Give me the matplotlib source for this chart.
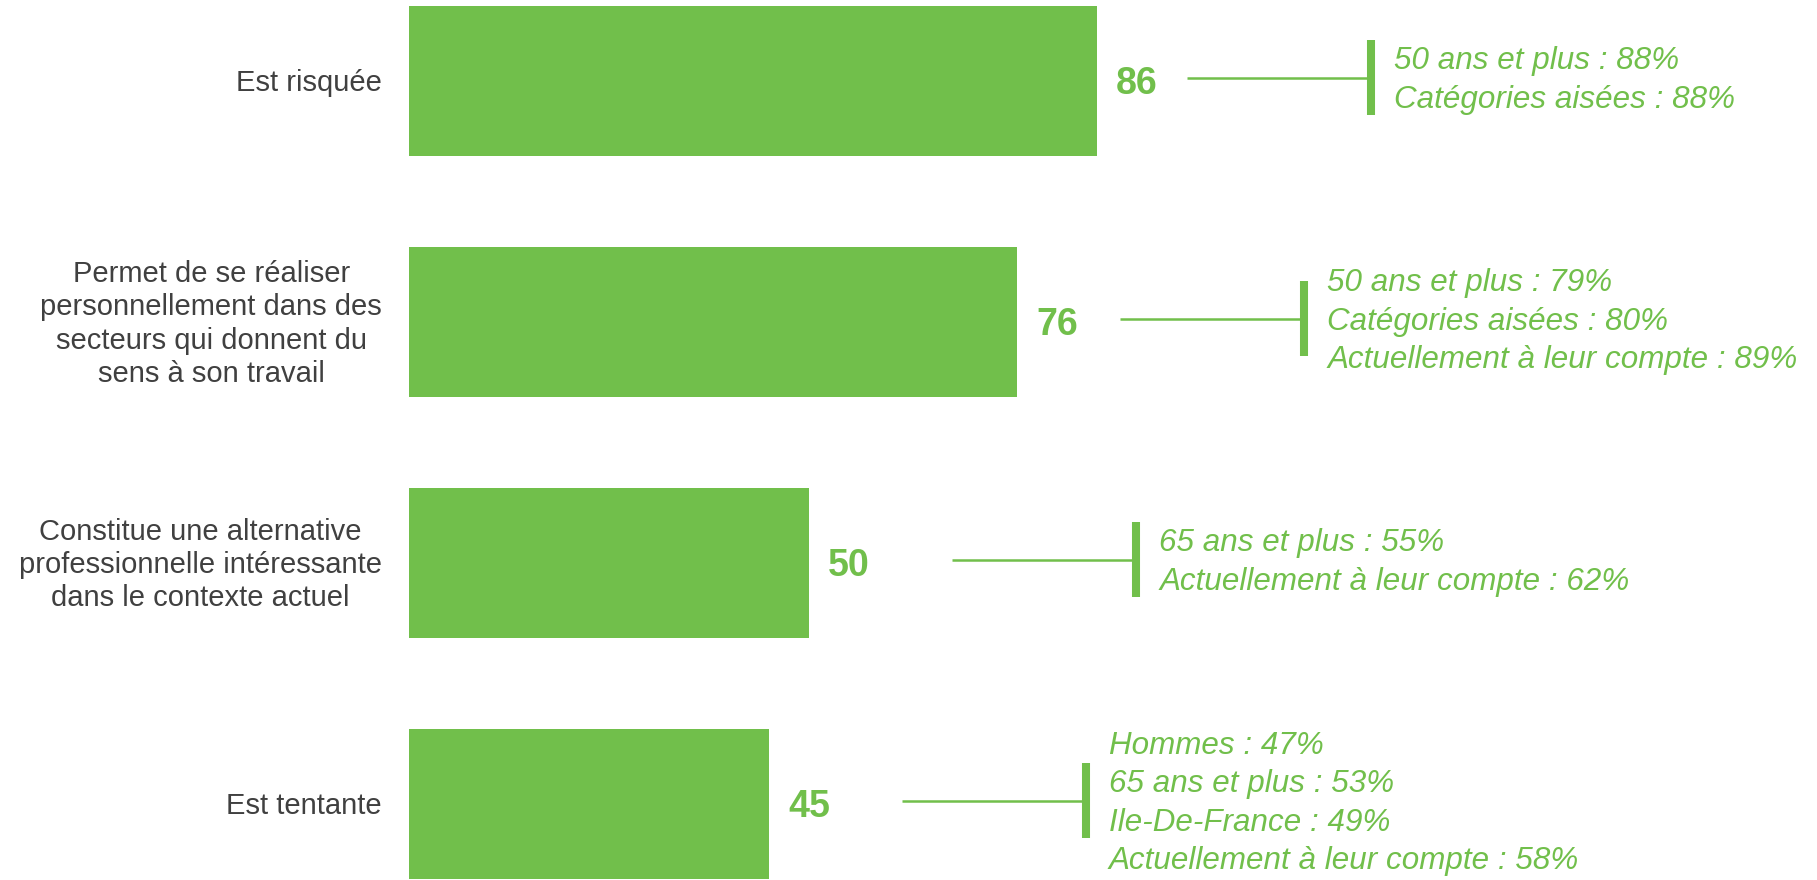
import matplotlib
matplotlib.use("Agg")
import matplotlib.pyplot as plt

# ---- data ----
categories = [
    ["Est risquée"],
    ["Permet de se réaliser", "personnellement dans des", "secteurs qui donnent du", "sens à son travail"],
    ["Constitue une alternative", "professionnelle intéressante", "dans le contexte actuel"],
    ["Est tentante"],
]
values = [86, 76, 50, 45]
details = [
    ["50 ans et plus : 88%", "Catégories aisées : 88%"],
    ["50 ans et plus : 79%", "Catégories aisées : 80%", "Actuellement à leur compte : 89%"],
    ["65 ans et plus : 55%", "Actuellement à leur compte : 62%"],
    ["Hommes : 47%", "65 ans et plus : 53%", "Ile-De-France : 49%", "Actuellement à leur compte : 58%"],
]
# position of the bracket (vertical tick) for each callout, in value units
bracket_x = [120.25, 111.9, 90.9, 84.6]

GREEN = "#71BF4B"
GREY = "#404040"
FONT = ["Liberation Sans", "DejaVu Sans"]

W, H, DPI = 1817, 880, 100
fig = plt.figure(figsize=(W / DPI, H / DPI), dpi=DPI)
left_px = 409
px_per_unit = 8.0
row_px = 241.0
top_center_px = 81.0

ax = fig.add_axes([left_px / W, 0, 1 - left_px / W, 1])
ax.set_xlim(0, (W - left_px) / px_per_unit)
ax.set_ylim((H - top_center_px) / row_px, -top_center_px / row_px)
ax.axis("off")

dx = 1.0 / px_per_unit   # data units per pixel (x)
dy = 1.0 / row_px        # data units per pixel (y)

ypos = list(range(len(values)))
ax.barh(ypos, values, height=150 / row_px, color=GREEN, edgecolor="none")

renderer = fig.canvas.get_renderer()

for i, (v, cat, det, bx) in enumerate(zip(values, categories, details, bracket_x)):
    # category label (left), lines centred on each other, block right edge fixed
    n = len(cat)
    texts = []
    for k, line in enumerate(cat):
        yb = i + (10 + (k - (n - 1) / 2) * 33.5) * dy
        t = ax.text(0, yb, line, ha="center", va="baseline", fontsize=21,
                    color=GREY, family=FONT, clip_on=False)
        texts.append(t)
    maxw = max(t.get_window_extent(renderer).width for t in texts)
    for t in texts:
        t.set_x(-(27 + maxw / 2) * dx)
    # value label
    ax.text(v + 19 * dx, i + 13.5 * dy, f"{v}", ha="left", va="baseline",
            fontsize=27, fontweight="bold", color=GREEN, family=FONT)
    # connector
    cy = i - 3 * dy
    ax.plot([bx - 23, bx], [cy, cy], color=GREEN, lw=1.8, solid_capstyle="butt")
    ax.plot([bx, bx], [cy - 37.5 * dy, cy + 37.5 * dy], color=GREEN, lw=5.8,
            solid_capstyle="butt")
    m = len(det)
    for k, line in enumerate(det):
        yb = cy + (10.7 + (k - (m - 1) / 2) * 38.5) * dy
        ax.text(bx + 23 * dx, yb, line, ha="left", va="baseline", fontsize=22.6,
                style="italic", color=GREEN, family=FONT, clip_on=False)

fig.savefig("out.png", dpi=DPI)
